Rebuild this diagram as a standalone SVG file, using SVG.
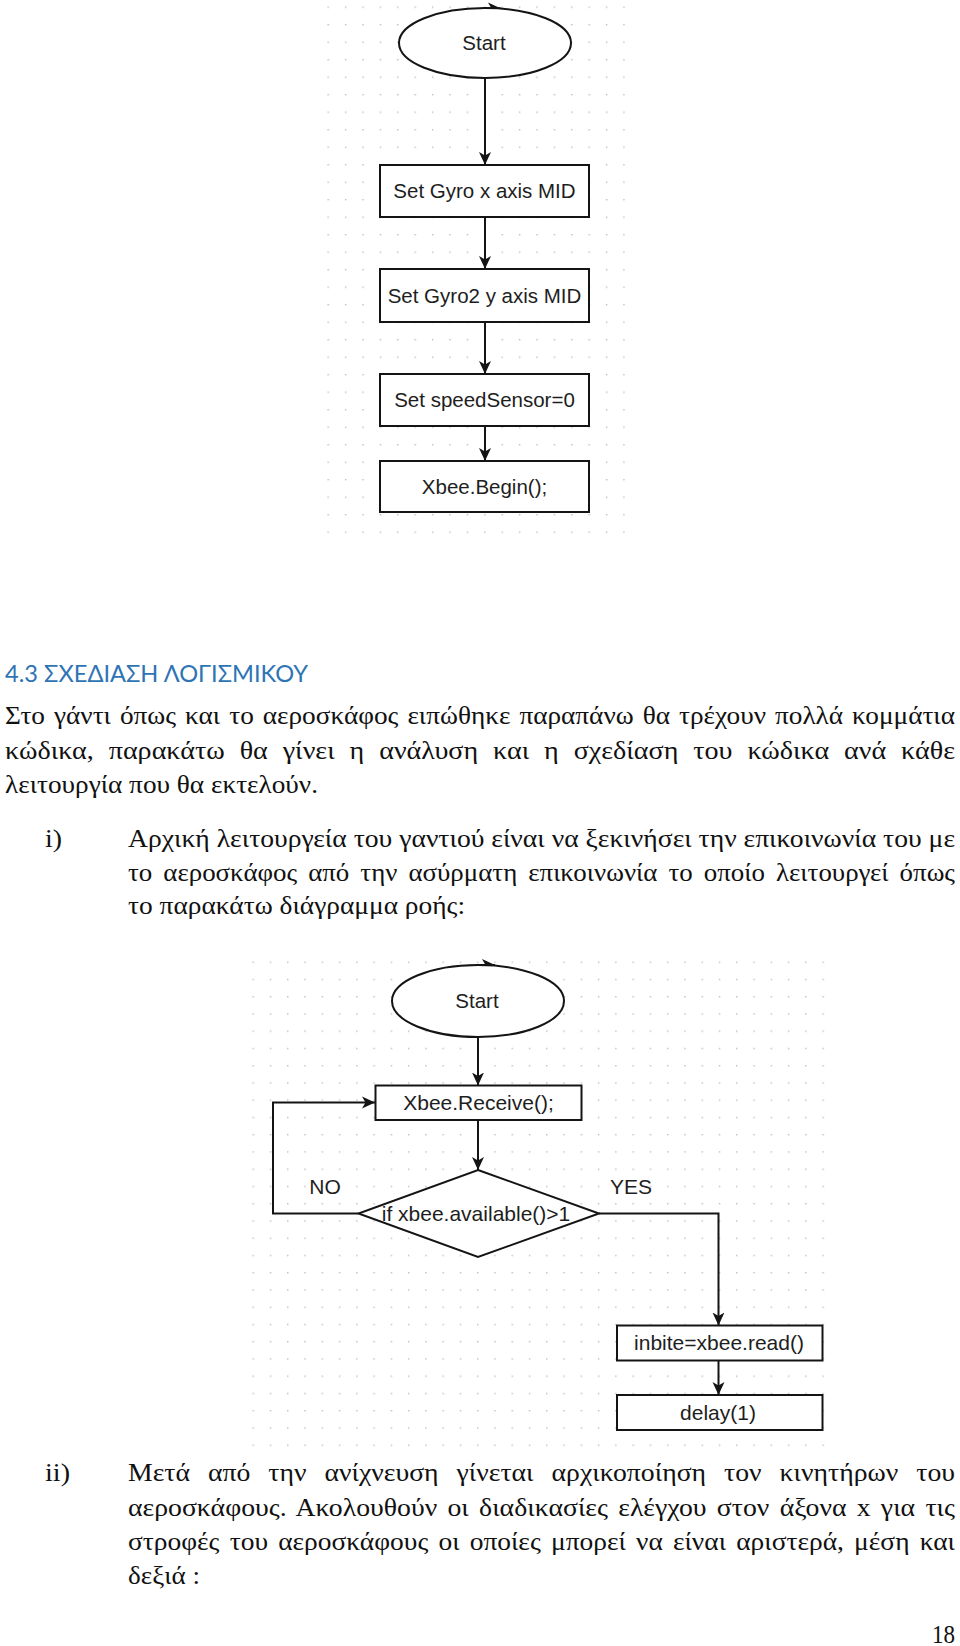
<svg xmlns="http://www.w3.org/2000/svg" width="960" height="1646" viewBox="0 0 960 1646">
<style>
.bg{fill:#ffffff}
.box{fill:#ffffff;stroke:#141414;stroke-width:2}
.lbl{font-family:"Liberation Sans",Arial,sans-serif;font-size:20.5px;fill:#1e1e1e;text-anchor:middle}
.lbl2{font-family:"Liberation Sans",Arial,sans-serif;font-size:21px;fill:#1e1e1e;text-anchor:middle}
.con{fill:none;stroke:#141414;stroke-width:2}
.body{font-family:"Liberation Serif","Times New Roman",serif;font-size:25px;fill:#111}
.head{font-family:Lato,"Open Sans","Liberation Sans",sans-serif;font-weight:400;font-size:23px;fill:#2e74b5}
</style>
<defs>
<marker id="ah" viewBox="0 0 13 13" refX="13" refY="6.5" markerWidth="13" markerHeight="13" markerUnits="userSpaceOnUse" orient="auto">
<path d="M0,0.5 L13,6.5 L0,12.5 L3.5,6.5 Z" fill="#141414"/>
</marker>
<pattern id="dots1" x="327.5" y="6.5" width="17.4" height="17.5" patternUnits="userSpaceOnUse">
<rect width="1.4" height="1.4" fill="#bdbdbd"/>
</pattern>
<pattern id="dots2" x="252.5" y="961.5" width="17.27" height="17.25" patternUnits="userSpaceOnUse">
<rect width="1.4" height="1.4" fill="#bdbdbd"/>
</pattern>
</defs>
<rect class="bg" x="0" y="0" width="960" height="1646"/>
<rect x="327" y="6" width="298" height="528" fill="url(#dots1)"/>
<rect x="252" y="961" width="573" height="486" fill="url(#dots2)"/>

<g id="connectors">
<path class="con" d="M486,8.5 H501" marker-end="url(#ah)"/>
<path class="con" d="M485,78 V165" marker-end="url(#ah)"/>
<path class="con" d="M485,217 V269" marker-end="url(#ah)"/>
<path class="con" d="M485,322 V374" marker-end="url(#ah)"/>
<path class="con" d="M485,426 V461" marker-end="url(#ah)"/>
<path class="con" d="M480,965 H495" marker-end="url(#ah)"/>
<path class="con" d="M478,1037 V1085.5" marker-end="url(#ah)"/>
<path class="con" d="M478,1120 V1170" marker-end="url(#ah)"/>
<path class="con" d="M358.5,1213.5 H273 V1102.5 H375" marker-end="url(#ah)"/>
<path class="con" d="M599,1213.5 H718.5 V1325.5" marker-end="url(#ah)"/>
<path class="con" d="M718.5,1360.5 V1395" marker-end="url(#ah)"/>
</g>

<g id="start1">
<ellipse class="box" cx="485" cy="43" rx="86" ry="35"/>
<text class="lbl" x="484" y="50">Start</text>
</g>
<g id="gyro-x">
<rect class="box" x="380" y="165" width="209" height="52"/>
<text class="lbl" x="484.5" y="198">Set Gyro x axis MID</text>
</g>
<g id="gyro2-y">
<rect class="box" x="380" y="269" width="209" height="53"/>
<text class="lbl" x="484.5" y="302.5">Set Gyro2 y axis MID</text>
</g>
<g id="speed-sensor">
<rect class="box" x="380" y="374" width="209" height="52"/>
<text class="lbl" x="484.5" y="407">Set speedSensor=0</text>
</g>
<g id="xbee-begin">
<rect class="box" x="380" y="461" width="209" height="51"/>
<text class="lbl" x="484.5" y="493.5">Xbee.Begin();</text>
</g>

<g id="start2">
<ellipse class="box" cx="478" cy="1001" rx="86" ry="36"/>
<text class="lbl" x="477" y="1008">Start</text>
</g>
<g id="xbee-receive">
<rect class="box" x="375.5" y="1085.5" width="206" height="34.5"/>
<text class="lbl2" x="478.5" y="1110">Xbee.Receive();</text>
</g>
<g id="decision">
<polygon class="box" points="478,1170 599,1213.5 478,1257 358.5,1213.5"/>
<text class="lbl2" x="476" y="1220.5">if xbee.available()&gt;1</text>
</g>
<g id="edge-labels">
<text class="lbl2" x="325" y="1194">NO</text>
<text class="lbl2" x="631" y="1194">YES</text>
</g>
<g id="inbite">
<rect class="box" x="617" y="1325.5" width="205.5" height="35"/>
<text class="lbl2" x="719" y="1350">inbite=xbee.read()</text>
</g>
<g id="delay">
<rect class="box" x="617" y="1395" width="205.5" height="35"/>
<text class="lbl2" x="718" y="1419.5">delay(1)</text>
</g>

<g id="page-text">
<text class="head" x="5" y="682" textLength="303" lengthAdjust="spacingAndGlyphs">4.3 ΣΧΕΔΙΑΣΗ ΛΟΓΙΣΜΙΚΟΥ</text>
<text class="body" x="5" y="724" textLength="950" lengthAdjust="spacingAndGlyphs" word-spacing="2">Στο γάντι όπως και το αεροσκάφος ειπώθηκε παραπάνω θα τρέχουν πολλά κομμάτια</text>
<text class="body" x="5" y="759" textLength="950" lengthAdjust="spacingAndGlyphs" word-spacing="7">κώδικα, παρακάτω θα γίνει η ανάλυση και η σχεδίαση του κώδικα ανά κάθε</text>
<text class="body" x="5" y="793" textLength="313" lengthAdjust="spacingAndGlyphs">λειτουργία που θα εκτελούν.</text>
<text class="body" x="45" y="847" textLength="17" lengthAdjust="spacingAndGlyphs">i)</text>
<text class="body" x="128" y="847" textLength="827" lengthAdjust="spacingAndGlyphs">Αρχική λειτουργεία του γαντιού είναι να ξεκινήσει την επικοινωνία του με</text>
<text class="body" x="128" y="881" textLength="827" lengthAdjust="spacingAndGlyphs" word-spacing="4">το αεροσκάφος από την ασύρματη επικοινωνία το οποίο λειτουργεί όπως</text>
<text class="body" x="128" y="914" textLength="337" lengthAdjust="spacingAndGlyphs">το παρακάτω διάγραμμα ροής:</text>
<text class="body" x="45" y="1481" textLength="25" lengthAdjust="spacingAndGlyphs">ii)</text>
<text class="body" x="128" y="1481" textLength="827" lengthAdjust="spacingAndGlyphs" word-spacing="10">Μετά από την ανίχνευση γίνεται αρχικοποίηση τον κινητήρων του</text>
<text class="body" x="128" y="1516" textLength="827" lengthAdjust="spacingAndGlyphs" word-spacing="3">αεροσκάφους. Ακολουθούν οι διαδικασίες ελέγχου στον άξονα x για τις</text>
<text class="body" x="128" y="1550" textLength="827" lengthAdjust="spacingAndGlyphs" word-spacing="3">στροφές του αεροσκάφους οι οποίες μπορεί να είναι αριστερά, μέση και</text>
<text class="body" x="128" y="1584" textLength="72" lengthAdjust="spacingAndGlyphs">δεξιά :</text>
<text class="body" x="932" y="1643" textLength="23" lengthAdjust="spacingAndGlyphs">18</text>
</g>
</svg>
